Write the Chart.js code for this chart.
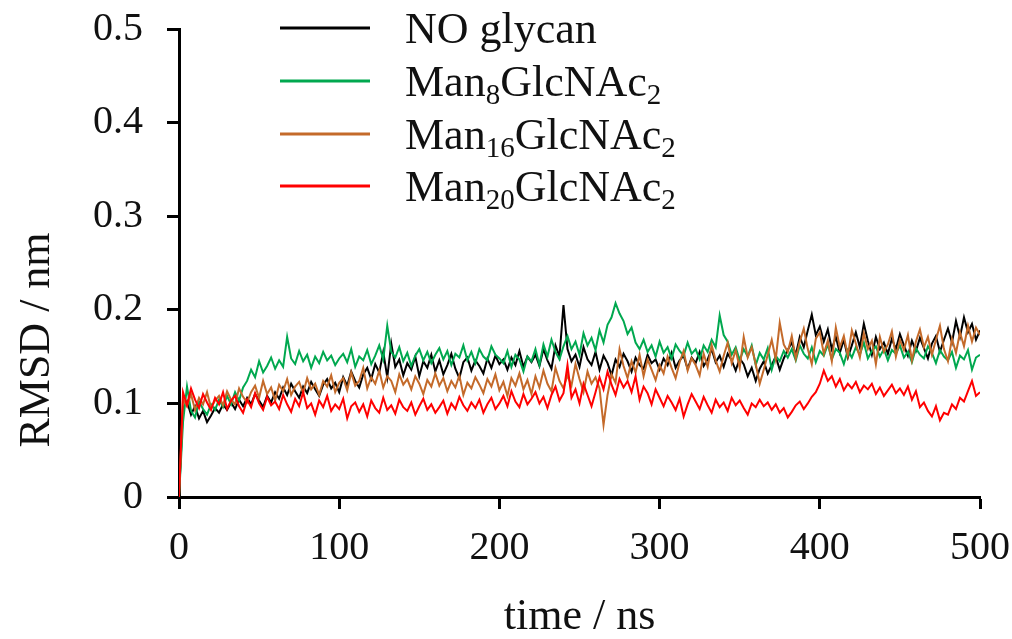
<!DOCTYPE html>
<html>
<head>
<meta charset="utf-8">
<script src="https://cdn.jsdelivr.net/npm/chart.js@4.4.0/dist/chart.umd.min.js"></script>
<style>
  html, body { margin: 0; padding: 0; background: #ffffff; }
  #c { display: block; }
</style>
</head>
<body>
<canvas id="c" width="1012" height="639"></canvas>
<script>
// ---------------- DATA ----------------
const seriesNames = ['NO glycan', 'Man₈GlcNAc₂', 'Man₁₆GlcNAc₂', 'Man₂₀GlcNAc₂'];
const seriesColors = ['#000000', '#00A84F', '#C46A2A', '#FF0000'];
const xTickLabels = [0, 100, 200, 300, 400, 500];
const yTickLabels = [0, 0.1, 0.2, 0.3, 0.4, 0.5];
const xTitle = 'time / ns';
const yTitle = 'RMSD / nm';
const timeStep = 2.5; // ns between samples

// RMSD values (nm) sampled every 2.5 ns from 0 to 500 ns
const noGlycan = [0,
 .095,.102,.088,.097,.084,.092,.080,.087,
 .095,.090,.099,.093,.101,.094,.104,.097,
 .106,.099,.110,.103,.096,.108,.101,.112,
 .105,.117,.109,.121,.113,.106,.118,.111,
 .123,.115,.108,.120,.126,.116,.122,.112,
 .128,.119,.134,.124,.117,.131,.138,.126,
 .142,.133,.155,.128,.164,.139,.147,.130,
 .143,.136,.150,.129,.145,.138,.152,.134,
 .146,.131,.141,.153,.137,.127,.144,.149,
 .135,.146,.140,.132,.148,.138,.151,.142,
 .147,.136,.149,.141,.156,.139,.150,.144,
 .152,.140,.158,.146,.137,.162,.150,.205,
 .158,.145,.152,.139,.160,.147,.141,.155,
 .136,.151,.143,.130,.147,.139,.153,.145,
 .134,.149,.141,.137,.152,.143,.147,.136,
 .148,.141,.154,.138,.146,.151,.137,.149,
 .143,.155,.140,.147,.158,.144,.151,.139,
 .153,.146,.135,.148,.142,.129,.138,.124,
 .137,.145,.132,.141,.150,.136,.148,.157,
 .165,.152,.171,.160,.178,.195,.173,.182,
 .166,.179,.158,.171,.154,.168,.149,.162,
 .176,.160,.185,.167,.152,.171,.158,.165,
 .153,.169,.158,.174,.162,.151,.167,.156,
 .170,.159,.148,.164,.172,.155,.168,.180,
 .165,.188,.171,.192,.176,.185,.168,.178];

const man8 = [0,
 .080,.118,.092,.085,.102,.094,.088,.099,
 .093,.104,.096,.108,.099,.112,.103,.117,
 .124,.136,.128,.145,.133,.140,.149,.137,
 .146,.139,.171,.148,.142,.156,.145,.152,
 .138,.150,.143,.155,.146,.151,.141,.148,
 .153,.144,.158,.139,.150,.146,.157,.142,
 .151,.162,.147,.183,.155,.149,.160,.145,
 .154,.140,.151,.158,.146,.155,.143,.152,
 .159,.147,.156,.141,.153,.149,.162,.146,
 .155,.143,.158,.150,.146,.161,.152,.148,
 .143,.156,.139,.152,.147,.134,.150,.145,
 .158,.141,.163,.150,.168,.155,.147,.161,
 .172,.158,.166,.152,.175,.162,.170,.157,
 .178,.165,.184,.192,.207,.196,.188,.174,
 .181,.165,.158,.168,.155,.162,.150,.166,
 .154,.160,.148,.163,.156,.151,.165,.153,
 .158,.147,.162,.155,.168,.160,.194,.173,
 .166,.152,.160,.146,.158,.150,.162,.141,
 .154,.147,.159,.136,.151,.145,.156,.149,
 .158,.146,.162,.153,.148,.160,.144,.156,
 .151,.163,.147,.158,.154,.142,.157,.149,
 .160,.152,.165,.148,.156,.161,.150,.158,
 .146,.157,.153,.162,.149,.155,.144,.159,
 .152,.148,.161,.154,.143,.157,.150,.146,
 .155,.138,.151,.147,.157,.136,.149,.152];

const man16 = [0,
 .104,.097,.110,.093,.106,.099,.112,.095,
 .103,.108,.098,.113,.104,.099,.116,.107,
 .101,.112,.119,.106,.124,.110,.117,.103,
 .120,.113,.126,.109,.118,.123,.111,.127,
 .115,.121,.109,.124,.118,.130,.112,.122,
 .127,.114,.133,.119,.124,.138,.116,.128,
 .121,.135,.117,.129,.124,.112,.131,.120,
 .126,.115,.129,.121,.110,.125,.118,.132,
 .119,.127,.113,.124,.117,.130,.109,.122,
 .116,.128,.120,.111,.126,.118,.131,.114,
 .123,.108,.127,.119,.132,.115,.125,.110,
 .129,.117,.135,.121,.113,.138,.124,.116,
 .130,.119,.142,.126,.112,.134,.121,.128,
 .116,.077,.109,.131,.122,.158,.140,.127,
 .145,.133,.152,.129,.147,.136,.125,.141,
 .132,.150,.138,.127,.144,.156,.135,.148,
 .141,.130,.153,.139,.162,.146,.134,.151,
 .165,.143,.157,.138,.171,.149,.160,.142,
 .121,.136,.152,.168,.147,.186,.163,.155,
 .172,.148,.166,.180,.158,.142,.169,.176,
 .153,.167,.145,.181,.160,.172,.151,.178,
 .164,.149,.175,.158,.167,.142,.171,.155,
 .163,.177,.150,.168,.157,.173,.146,.166,
 .179,.160,.171,.152,.168,.183,.158,.145,
 .169,.154,.176,.161,.183,.166,.181,.173];

const man20 = [0,
 .112,.098,.116,.104,.095,.110,.101,.093,
 .106,.099,.112,.094,.103,.108,.097,.090,
 .104,.096,.111,.100,.093,.107,.098,.102,
 .094,.109,.099,.091,.105,.097,.112,.095,
 .100,.088,.103,.096,.108,.092,.099,.094,
 .105,.084,.097,.101,.091,.099,.086,.103,
 .095,.090,.106,.093,.098,.089,.104,.096,
 .092,.101,.088,.097,.105,.093,.099,.090,
 .096,.103,.089,.100,.094,.107,.098,.092,
 .101,.095,.104,.090,.099,.106,.094,.100,
 .108,.097,.113,.102,.096,.110,.099,.105,
 .112,.100,.107,.095,.109,.118,.103,.111,
 .141,.106,.115,.100,.121,.109,.097,.112,
 .128,.115,.134,.120,.109,.126,.117,.124,
 .112,.129,.104,.118,.111,.099,.115,.106,
 .097,.108,.101,.093,.105,.086,.099,.110,
 .102,.094,.107,.098,.090,.104,.096,.101,
 .092,.106,.098,.103,.095,.088,.100,.096,
 .104,.097,.101,.093,.099,.090,.095,.085,
 .091,.098,.102,.094,.100,.107,.112,.121,
 .135,.124,.129,.118,.126,.114,.121,.116,
 .123,.112,.119,.115,.121,.110,.117,.108,
 .114,.120,.111,.116,.109,.118,.104,.113,
 .096,.101,.092,.086,.097,.082,.090,.088,
 .099,.094,.106,.102,.113,.124,.108,.112];

const seriesValues = [noGlycan, man8, man16, man20];

// ---------------- CHART ----------------
const FONT = "'Liberation Serif', 'Times New Roman', serif";

function toPoints(values) {
  return values.map((v, i) => ({ x: i * timeStep, y: v }));
}

const datasets = seriesValues.map((vals, k) => ({
  label: seriesNames[k],
  data: toPoints(vals),
  borderColor: seriesColors[k],
  backgroundColor: seriesColors[k],
  borderWidth: 2,
  pointRadius: 0,
  tension: 0,
  fill: false,
  order: seriesValues.length - k
}));

// Legend with subscript rendering
const subMap = {'₀':'0','₁':'1','₂':'2','₃':'3','₄':'4','₅':'5','₆':'6','₇':'7','₈':'8','₉':'9'};
const legendPlugin = {
  id: 'subLegend',
  afterDraw(chart) {
    const ctx = chart.ctx;
    const x0 = 280, x1 = 370, tx = 405;
    const rowY = [28, 81, 134, 186];
    ctx.save();
    chart.data.datasets.forEach((ds, i) => {
      const y = rowY[i];
      ctx.strokeStyle = ds.borderColor;
      ctx.lineWidth = 3;
      ctx.beginPath();
      ctx.moveTo(x0, y);
      ctx.lineTo(x1, y);
      ctx.stroke();
      let x = tx;
      const base = y + 15;
      ctx.fillStyle = '#111';
      ctx.textBaseline = 'alphabetic';
      ctx.textAlign = 'left';
      const runs = [];
      for (const ch of ds.label) {
        const sub = subMap[ch] !== undefined;
        const c = sub ? subMap[ch] : ch;
        if (runs.length && runs[runs.length - 1].sub === sub) runs[runs.length - 1].t += c;
        else runs.push({ t: c, sub });
      }
      runs.forEach(r => {
        ctx.font = (r.sub ? '29px ' : '44px ') + FONT;
        ctx.fillText(r.t, x, r.sub ? base + 8 : base);
        x += ctx.measureText(r.t).width;
      });
    });
    ctx.restore();
  }
};

const yTitlePlugin = {
  id: 'yTitle',
  afterDraw(chart) {
    const ctx = chart.ctx;
    ctx.save();
    ctx.translate(37, 340);
    ctx.rotate(-Math.PI / 2);
    ctx.font = '44px ' + FONT;
    ctx.fillStyle = '#111';
    ctx.textAlign = 'center';
    ctx.textBaseline = 'middle';
    ctx.fillText(yTitle, 0, 0);
    ctx.restore();
  }
};

new Chart(document.getElementById('c'), {
  type: 'line',
  data: { datasets },
  plugins: [legendPlugin, yTitlePlugin],
  options: {
    responsive: false,
    animation: false,
    events: [],
    layout: { padding: { left: 0, top: 29, right: 32, bottom: 0 } },
    plugins: {
      legend: { display: false },
      tooltip: { enabled: false }
    },
    scales: {
      x: {
        type: 'linear',
        min: xTickLabels[0],
        max: xTickLabels[xTickLabels.length - 1],
        afterBuildTicks(scale) { scale.ticks = xTickLabels.map(v => ({ value: v })); },
        afterFit(scale) { scale.height = 142; scale.paddingLeft = 0; scale.paddingRight = 0; },
        border: { display: true, color: '#000', width: 3 },
        grid: { display: true, drawOnChartArea: false, drawTicks: true, tickLength: 12, tickWidth: 3, tickColor: '#000' },
        ticks: { color: '#111', font: { family: FONT, size: 40 }, padding: 15, maxRotation: 0, autoSkip: false },
        title: { display: true, text: xTitle, color: '#111', font: { family: FONT, size: 44, lineHeight: 1.0 }, padding: { top: 0, bottom: 0 } }
      },
      y: {
        type: 'linear',
        min: yTickLabels[0],
        max: yTickLabels[yTickLabels.length - 1],
        afterBuildTicks(scale) { scale.ticks = yTickLabels.map(v => ({ value: v })); },
        afterFit(scale) { scale.width = 179; scale.paddingTop = 0; scale.paddingBottom = 0; },
        border: { display: true, color: '#000', width: 3 },
        grid: { display: true, drawOnChartArea: false, drawTicks: true, tickLength: 12, tickWidth: 3, tickColor: '#000' },
        ticks: { color: '#111', font: { family: FONT, size: 40 }, padding: 24, callback: v => String(v) }
      }
    }
  }
});
</script>
</body>
</html>
